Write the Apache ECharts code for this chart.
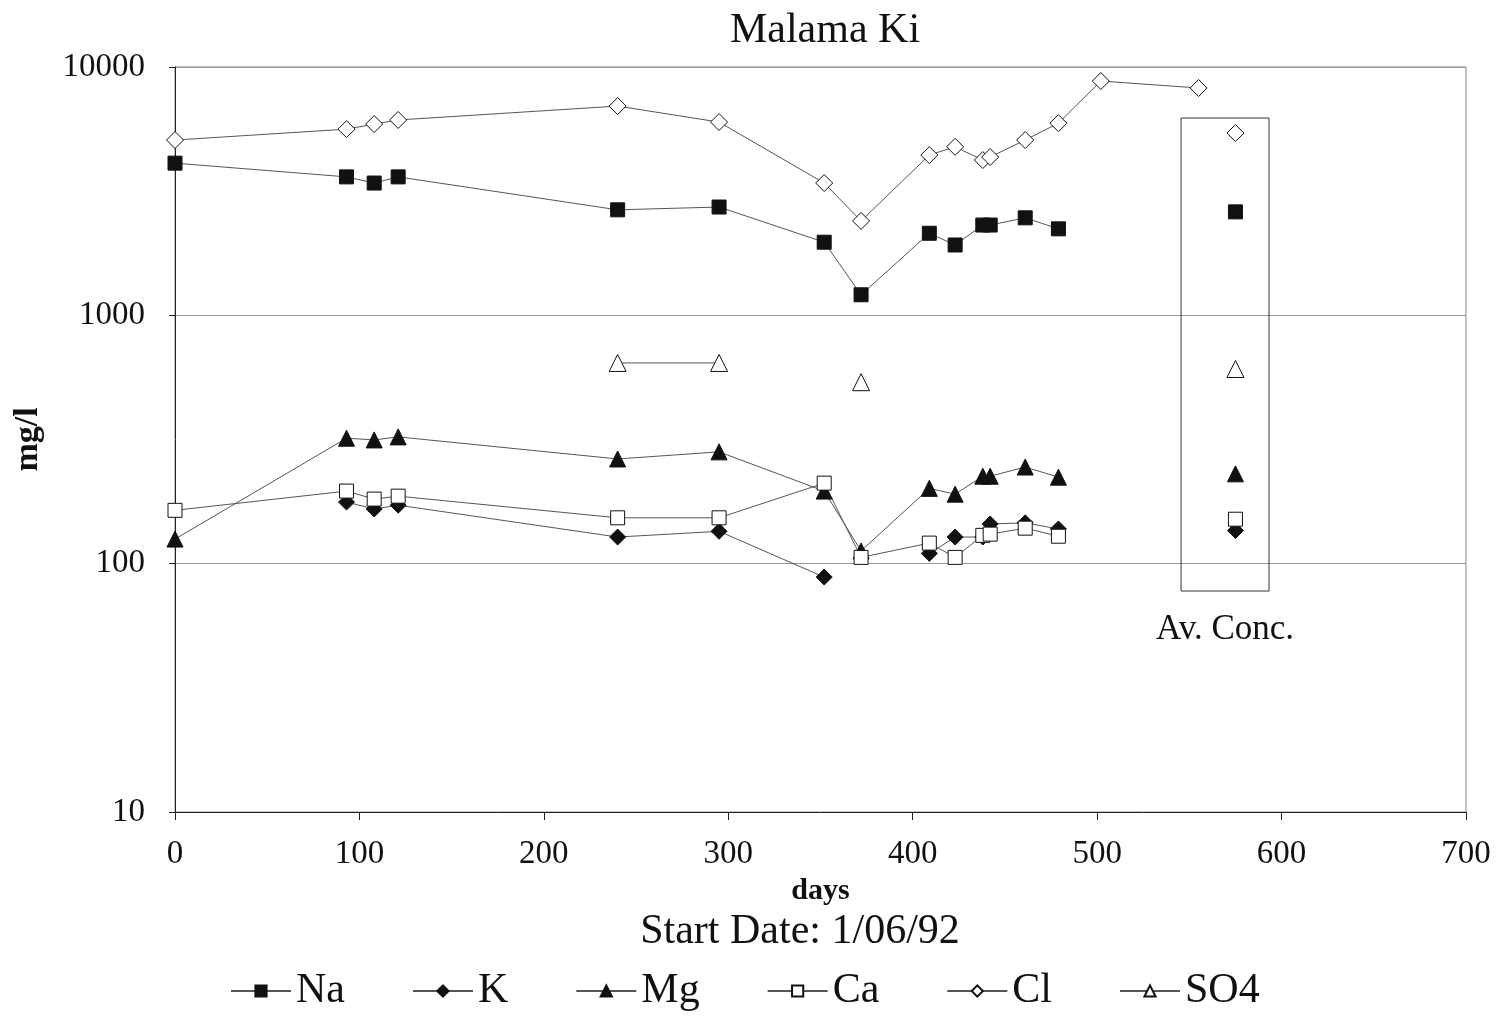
<!DOCTYPE html>
<html>
<head>
<meta charset="utf-8">
<script src="https://cdn.jsdelivr.net/npm/echarts@6/dist/echarts.min.js"></script>
<style>html,body{margin:0;padding:0;background:#fff;}#c{width:1501px;height:1019px;}</style>
</head>
<body>
<div id="c"></div>
<script>
const days = [0, 93, 108, 121, 240, 295, 352, 372, 409, 423, 438, 442, 461, 479, 502, 555];
const Na  = [4100, 3610, 3410, 3610, 2660, 2730, 1970, 1210, 2140, 1920, 2310, 2310, 2470, 2230, null, null];
const K   = [null, 177, 166, 172, 128, 135, 88.3, null, 110, 128, 128, 144.5, 146, 138, null, null];
const Mg  = [125.6, 320, 315, 324, 264, 282, 196, 112.5, 201, 190.5, 225, 225, 245, 223, null, null];
const Ca  = [164, 196, 182, 187, 153, 153, 211, 106, 121, 106, 130, 131.5, 139, 129, null, null];
const Cl  = [5080, 5620, 5890, 6120, 6960, 6000, 3410, 2400, 4420, 4770, 4220, 4340, 5080, 5940, 8780, 8230];
const SO4 = [null, null, null, null, 643, 643, null, 538, null, null, null, null, null, null, null, null];

const avDay = 575;
const avNa = 2610, avK = 136, avMg = 230, avCa = 151, avCl = 5420, avSO4 = 608;
const avBoxX = [545.5, 593.2];
const avBoxY = [6230, 77.6];

const yTicks = [10, 100, 1000, 10000];

const FONT = '"Liberation Serif", "DejaVu Serif", serif';

function pairs(vals) {
  return days.map((d, i) => [d, vals[i] === null ? '-' : vals[i]]);
}

const defs = [
  {name: 'Na', vals: Na, av: avNa, symbol: 'rect', size: 14, fill: '#111'},
  {name: 'K', vals: K, av: avK, symbol: 'diamond', size: 16, fill: '#111'},
  {name: 'Mg', vals: Mg, av: avMg, symbol: 'triangle', size: 16, fill: '#111'},
  {name: 'Ca', vals: Ca, av: avCa, symbol: 'rect', size: 14, fill: '#fff'},
  {name: 'Cl', vals: Cl, av: avCl, symbol: 'diamond', size: 17, fill: '#fff'},
  {name: 'SO4', vals: SO4, av: avSO4, symbol: 'triangle', size: 17, fill: '#fff'}
];

const series = [];
defs.forEach(d => {
  series.push({
    name: d.name, type: 'line', data: pairs(d.vals),
    symbol: d.symbol, symbolSize: d.size, showAllSymbol: true,
    lineStyle: {color: '#555', width: 1},
    itemStyle: {color: d.fill, borderColor: '#111', borderWidth: 1, opacity: 1},
    z: 3
  });
});
defs.forEach((d, i) => {
  const s = {
    name: d.name + ' av', type: 'scatter', data: [[avDay, d.av]],
    symbol: d.symbol, symbolSize: d.size,
    itemStyle: {color: d.fill, borderColor: '#111', borderWidth: 1, opacity: 1},
    z: 3
  };
  if (i === 0) {
    s.markArea = {
      silent: true,
      itemStyle: {color: 'rgba(0,0,0,0)', borderColor: '#333', borderWidth: 1},
      label: {show: true, position: 'bottom', distance: 21, formatter: 'Av. Conc.',
              fontFamily: FONT, fontSize: 35, color: '#111'},
      data: [[{xAxis: avBoxX[0], yAxis: avBoxY[0]}, {xAxis: avBoxX[1], yAxis: avBoxY[1]}]]
    };
  }
  series.push(s);
});

const chart = echarts.init(document.getElementById('c'), null, {renderer: 'canvas'});
chart.setOption({
  animation: false,
  backgroundColor: '#fff',
  title: [
    {text: 'Malama Ki', left: 820, textAlign: 'center', top: 5,
     textStyle: {fontFamily: FONT, fontSize: 42, fontWeight: 'normal', color: '#111'}},
    {text: 'Start Date: 1/06/92', left: 795, textAlign: 'center', top: 906,
     textStyle: {fontFamily: FONT, fontSize: 42, fontWeight: 'normal', color: '#111'}}
  ],
  grid: {left: 175, right: 35, top: 67, bottom: 207, show: true, borderColor: '#888', borderWidth: 1},
  legend: {
    data: defs.map(d => d.name), bottom: 2, left: 225,
    itemWidth: 60, itemHeight: 14, itemGap: 67,
    textStyle: {fontFamily: FONT, fontSize: 42, color: '#111'}
  },
  xAxis: {
    type: 'value', min: 0, max: 700, interval: 100,
    name: 'days', nameLocation: 'middle', nameGap: 60,
    nameTextStyle: {fontFamily: FONT, fontSize: 30, fontWeight: 'bold', color: '#111'},
    axisLine: {lineStyle: {color: '#222'}},
    axisTick: {show: true, length: 8, lineStyle: {color: '#222'}},
    axisLabel: {fontFamily: FONT, fontSize: 33, color: '#111', margin: 26},
    splitLine: {show: false}
  },
  yAxis: {
    type: 'log', logBase: 10, min: yTicks[0], max: yTicks[yTicks.length - 1],
    name: 'mg/l', nameLocation: 'middle', nameGap: 130, nameRotate: 90,
    nameTextStyle: {fontFamily: FONT, fontSize: 34, fontWeight: 'bold', color: '#111'},
    axisLine: {show: true, lineStyle: {color: '#222'}},
    axisTick: {show: true, length: 6, lineStyle: {color: '#222'}},
    axisLabel: {fontFamily: FONT, fontSize: 33, color: '#111', margin: 30,
                formatter: v => String(Math.round(v))},
    splitLine: {show: true, lineStyle: {color: '#999', width: 1}},
    minorTick: {show: false}
  },
  series: series
});
</script>
</body>
</html>
